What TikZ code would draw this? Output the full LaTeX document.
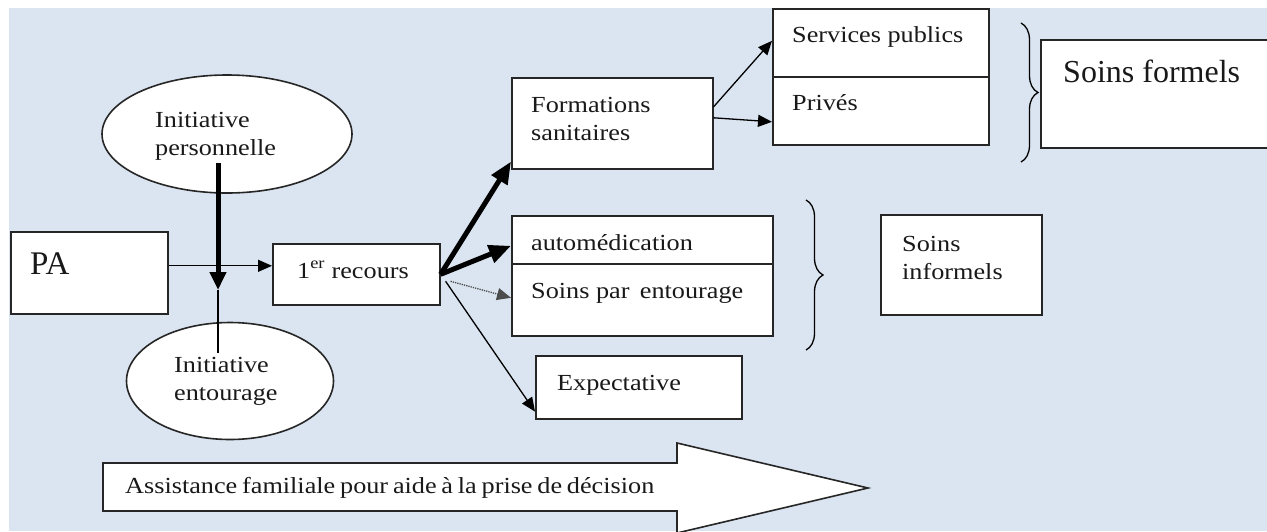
\documentclass[tikz,border=0pt]{standalone}
\usepackage{fontspec}
\setmainfont{Liberation Serif}
\newfontfamily\widefont{Liberation Serif}[FakeStretch=1.14]
\usetikzlibrary{shapes.geometric,arrows.meta,decorations.pathreplacing}
\definecolor{bgblue}{RGB}{219,229,241}
\tikzset{
% Boxes and ovals: white fill, dark border
box node/.style={rectangle,draw=black!85,line width=1.6pt,fill=white,inner sep=0,anchor=north west},
oval node/.style={ellipse,draw=black!85,line width=1.6pt,fill=white,inner sep=0},
% Text written in the boxes (base is the last line)
box text/.style={inner sep=0,anchor=base west,align=left,text=black!90,font=\widefont\fontsize{23}{28}\selectfont},
% Two arrow styles: thin and thick
thin arrow/.style={-{Triangle[length=14pt,width=12pt]},line width=1.3pt},
thick arrow/.style={-{Triangle[length=22pt,width=18pt]},line width=5pt}
}

\begin{document}
\begin{tikzpicture}[x=1pt,y=-1pt]
\useasboundingbox (0,0) rectangle (1267,531);
\fill[white] (0,0) rectangle (1267,531);
\fill[bgblue] (9,8) rectangle (1267,531);
% The ovals
\node(ip)[oval node,minimum width=250,minimum height=118] at (227,134) {};
\node(ie)[oval node,minimum width=207,minimum height=117] at (230,381) {};
\node[box text] at (155,155) {Initiative\\personnelle};
\node[box text] at (174,400) {Initiative\\entourage};
% The boxes
\node(pa)[box node,minimum width=157,minimum height=82] at (10,231) {};
\node(rec)[box node,minimum width=167,minimum height=61] at (272,243) {};
\node(fs)[box node,minimum width=201,minimum height=91] at (511,77) {};
\node(sp)[box node,minimum width=216,minimum height=68] at (772,8) {};
\node(pv)[box node,minimum width=216,minimum height=68] at (772,76) {};
\node(sfm)[box node,minimum width=240,minimum height=108] at (1040,39) {};
\node(am)[box node,minimum width=261,minimum height=48] at (511,215) {};
\node(spe)[box node,minimum width=261,minimum height=72] at (511,263) {};
\node(ex)[box node,minimum width=206,minimum height=63] at (535,355) {};
\node(si)[box node,minimum width=161,minimum height=100] at (880,214) {};
% Texts of the boxes
\node[box text,font=\fontsize{33}{36}\selectfont] at (30,274) {PA};
\node[box text] at (297,278) {1\textsuperscript{er} recours};
\node[box text] at (531,140) {Formations\\sanitaires};
\node[box text] at (792,42) {Services publics};
\node[box text] at (792,110) {Privés};
\node[box text,font=\fontsize{32}{36}\selectfont] at (1063,82) {Soins formels};
\node[box text] at (531,250) {automédication};
\node[box text] at (531,298) {Soins par\, entourage};
\node[box text] at (557,390) {Expectative};
\node[box text] at (902,279) {Soins\\informels};
% Braces
\draw[line width=1.3pt,decorate,decoration={brace,amplitude=17pt}] (1021,23) -- (1021,162);
\draw[line width=1.3pt,decorate,decoration={brace,amplitude=17pt}] (806,200) -- (806,350);
% Initiative line
\coordinate(v1) at (218,163);
\coordinate(v2) at (218,290);
\coordinate(v3) at (218,353);
\draw[-{Triangle[length=18pt,width=16pt]},line width=5pt] (v1) -- (v2);
\draw[line width=1.5pt] (v2) -- (v3);
% Arrows
\draw[thin arrow] ([yshift=7pt]pa.east) -- ([yshift=8.5pt]rec.west);
\draw[thick arrow] (rec.east) -- ([yshift=8pt]fs.south west);
\draw[thick arrow] (rec.east) -- ([yshift=-6pt]am.west);
\draw[thin arrow,densely dotted,draw=black!70] ([xshift=10pt,yshift=-7pt]rec.east) -- ([yshift=2pt]spe.west);
\draw[thin arrow] ([xshift=5pt,yshift=-7pt]rec.east) -- ([yshift=8pt]ex.south west);
\draw[thin arrow] ([yshift=16.5pt]fs.east) -- ([yshift=2pt]sp.west);
\draw[thin arrow] ([yshift=5.5pt]fs.east) -- ([yshift=-11pt]pv.west);
% Big arrow at the bottom
\draw[draw=black!85,line width=1.6pt,fill=white] (103,463) -- (677,463) -- (677,443) -- (868,488) -- (677,533) -- (677,511) -- (103,511) -- cycle;
\node(asst)[box text] at (125,493) {\spaceskip=4.8pt Assistance familiale pour aide à la prise de décision};
\end{tikzpicture}
\end{document}
